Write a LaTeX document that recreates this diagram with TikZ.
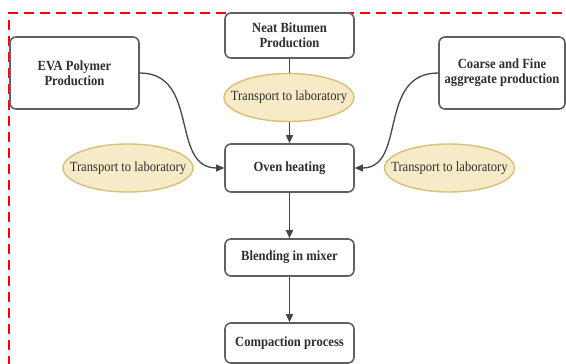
\documentclass[tikz,border=0pt]{standalone}
\usepackage{fontspec}
\setmainfont{Liberation Serif}[FakeStretch=0.9]
\usetikzlibrary{shapes.geometric,arrows.meta}
\definecolor{boxline}{HTML}{606060}
\definecolor{arrline}{HTML}{454545}
\definecolor{txt}{HTML}{2E2E2E}
\definecolor{ellfill}{HTML}{F6EBC6}
\definecolor{ellline}{HTML}{D8BF78}
\tikzset{
  procbox/.style={draw=boxline, line width=1.6pt, rounded corners=6pt, fill=white, text=txt, inner sep=0pt, align=center, font=\fontsize{14}{15}\selectfont\bfseries},
  transp/.style={ellipse, draw=ellline, line width=1.4pt, fill=ellfill, text=txt, inner sep=0pt, minimum width=130pt, minimum height=48pt, font=\fontsize{14}{15}\selectfont},
  flow/.style={draw=arrline, line width=1.3pt, -{Triangle[length=8pt,width=7pt]}}
}
\begin{document}
\begin{tikzpicture}[x=1pt,y=-1pt]
\useasboundingbox (0,0) rectangle (566,364);
\draw[red, line width=1.8pt, dash pattern=on 10pt off 6pt] (9,366) -- (9,13) -- (568,13);
\node[procbox, minimum width=129pt, minimum height=45pt] (neat) at (289.5,35.5) {Neat Bitumen\\Production};
\node[procbox, minimum width=129pt, minimum height=72pt] (eva) at (74.5,73) {EVA Polymer\\Production};
\node[procbox, minimum width=126pt, minimum height=72pt] (agg) at (502,73) {Coarse and Fine\\aggregate production};
\node[procbox, minimum width=129pt, minimum height=48pt] (oven) at (289.5,168) {Oven heating};
\node[procbox, minimum width=129pt, minimum height=37pt] (blend) at (289.5,257.5) {Blending in mixer};
\node[procbox, minimum width=129pt, minimum height=40pt] (comp) at (289.5,343) {Compaction process};
\draw[flow] (neat) -- (oven);
\draw[flow] (eva.east) .. controls (200,73) and (170,168) .. (oven.west);
\draw[flow] (agg.west) .. controls (377,73) and (407,168) .. (oven.east);
\draw[flow] (oven) -- (blend);
\draw[flow] (blend) -- (comp);
\node[transp] (t1) at (289,97.5) {\makebox[0pt]{Transport to laboratory}};
\node[transp] (t2) at (128,168) {\makebox[0pt]{Transport to laboratory}};
\node[transp] (t3) at (449.5,168) {\makebox[0pt]{Transport to laboratory}};
\end{tikzpicture}
\end{document}
